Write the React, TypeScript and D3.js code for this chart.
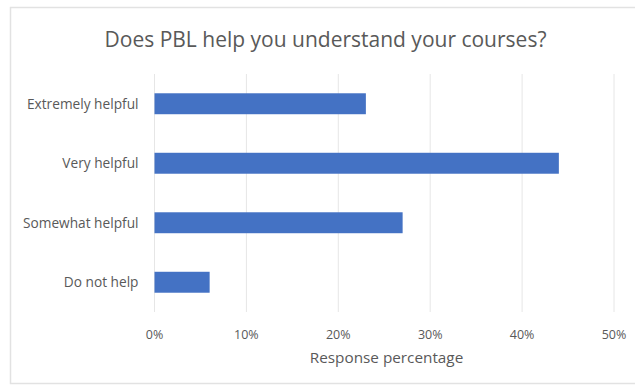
import React from "react";
import * as d3 from "d3";

const categories = ["Extremely helpful", "Very helpful", "Somewhat helpful", "Do not help"];
const values = [23, 44, 27, 6];
const xTicks = [0, 10, 20, 30, 40, 50];
const title = "Does PBL help you understand your courses?";
const xTitle = "Response percentage";

const W = 635;
const H = 385;
const FONT = "'Open Sans', sans-serif";

export default function App() {
  const x = d3.scaleLinear().domain([0, 50]).range([154.5, 614]);
  const y = d3
    .scaleBand<string>()
    .domain(categories)
    .range([74, 312])
    .paddingInner(0.648)
    .paddingOuter(0.324);

  return (
    <svg
      width={W}
      height={H}
      style={{ position: "absolute", left: 0, top: 0, background: "#fff" }}
    >
      <rect x={10.5} y={7.5} width={640} height={376} fill="#fff" stroke="#e2e2e2" strokeWidth={1.5} />
      <text
        x={325.5}
        y={47}
        textAnchor="middle"
        fontFamily={FONT}
        fontSize={21}
        fill="#595959"
      >
        {title}
      </text>
      {xTicks.map((t) => (
        <line
          key={"g" + t}
          x1={x(t)}
          x2={x(t)}
          y1={74}
          y2={312}
          stroke="#e6e6e6"
          strokeWidth={1}
        />
      ))}
      {categories.map((c, i) => (
        <rect
          key={c}
          x={x(0)}
          y={y(c)}
          width={x(values[i]) - x(0)}
          height={y.bandwidth()}
          fill="#4472C4"
        />
      ))}
      {categories.map((c) => (
        <text
          key={"l" + c}
          x={138.5}
          y={(y(c) as number) + y.bandwidth() / 2}
          dy="0.35em"
          textAnchor="end"
          fontFamily={FONT}
          fontSize={13.7}
          fill="#595959"
        >
          {c}
        </text>
      ))}
      {xTicks.map((t) => (
        <text
          key={"t" + t}
          x={x(t)}
          y={335}
          dy="0.35em"
          textAnchor="middle"
          fontFamily={FONT}
          fontSize={12.5}
          fill="#595959"
        >
          {t + "%"}
        </text>
      ))}
      <text
        x={386.5}
        y={358}
        dy="0.35em"
        textAnchor="middle"
        fontFamily={FONT}
        fontSize={15.3}
        fill="#595959"
      >
        {xTitle}
      </text>
    </svg>
  );
}
